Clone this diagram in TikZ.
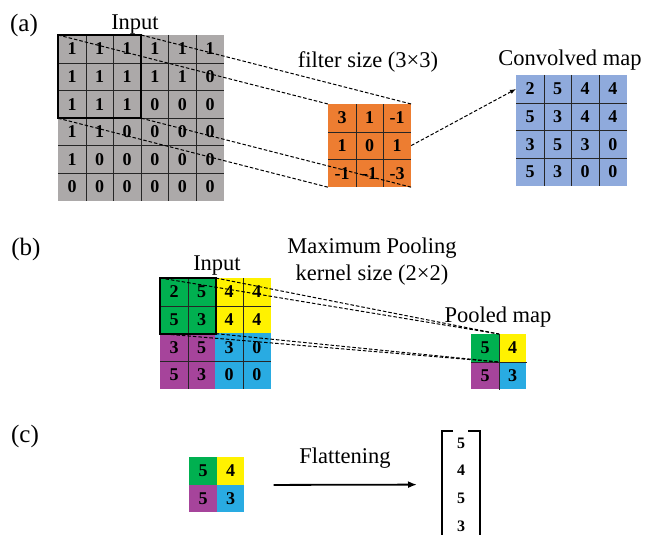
\documentclass[tikz,border=0pt]{standalone}
\usepackage{fontspec}
\setmainfont{Liberation Serif}
\usetikzlibrary{arrows.meta}
\definecolor{ingray}{RGB}{172,169,169}
\definecolor{filtorange}{RGB}{237,125,49}
\definecolor{convblue}{RGB}{143,170,220}
\definecolor{poolgreen}{RGB}{0,176,80}
\definecolor{poolyellow}{RGB}{255,242,0}
\definecolor{poolpurple}{RGB}{166,68,155}
\definecolor{poolcyan}{RGB}{41,171,226}
\tikzset{
  cell/.style     = { anchor=north west, minimum size=27.6pt, inner sep=0pt, font=\bfseries\fontsize{18}{19}\selectfont },
  incell/.style   = { cell, fill=ingray },
  ficell/.style   = { cell, fill=filtorange },
  cocell/.style   = { cell, fill=convblue },
  gridline/.style = { draw=black!85, line width=0.8pt },
  window/.style   = { draw=black, line width=1.8pt },
  connect/.style  = { dashed, line width=1pt, dash pattern=on 3.5pt off 2pt },
  title/.style    = { anchor=base, font=\fontsize{22.5}{24}\selectfont },
  tag/.style      = { anchor=base, font=\fontsize{25}{26}\selectfont },
  vecnum/.style   = { font=\bfseries\fontsize{16}{17}\selectfont },
  flat/.style     = { line width=1.8pt, -{Latex[length=9pt,width=7pt]} },
  brack/.style    = { line width=1.6pt }
}

\begin{document}
\begin{tikzpicture}[x=1pt, y=-1pt]
    \useasboundingbox (0,0) rectangle (648,535);

    % (a) convolution
    \node[tag]   (taga) at (24,32)  {(a)};
    \node[title] (ina)  at (135,30) {Input};
    \node[title] (fsz)  at (368,67) {filter size (3×3)};
    \node[title] (cmap) at (570,66) {Convolved map};

    \node[incell] (a11) at ( 58.0, 35.0) {1}; \node[incell] (a12) at ( 85.6, 35.0) {1}; \node[incell] (a13) at (113.2, 35.0) {1};
    \node[incell] (a14) at (140.8, 35.0) {1}; \node[incell] (a15) at (168.4, 35.0) {1}; \node[incell] (a16) at (196.0, 35.0) {1};
    \node[incell] (a21) at ( 58.0, 62.6) {1}; \node[incell] (a22) at ( 85.6, 62.6) {1}; \node[incell] (a23) at (113.2, 62.6) {1};
    \node[incell] (a24) at (140.8, 62.6) {1}; \node[incell] (a25) at (168.4, 62.6) {1}; \node[incell] (a26) at (196.0, 62.6) {0};
    \node[incell] (a31) at ( 58.0, 90.2) {1}; \node[incell] (a32) at ( 85.6, 90.2) {1}; \node[incell] (a33) at (113.2, 90.2) {1};
    \node[incell] (a34) at (140.8, 90.2) {0}; \node[incell] (a35) at (168.4, 90.2) {0}; \node[incell] (a36) at (196.0, 90.2) {0};
    \node[incell] (a41) at ( 58.0,117.8) {1}; \node[incell] (a42) at ( 85.6,117.8) {1}; \node[incell] (a43) at (113.2,117.8) {0};
    \node[incell] (a44) at (140.8,117.8) {0}; \node[incell] (a45) at (168.4,117.8) {0}; \node[incell] (a46) at (196.0,117.8) {0};
    \node[incell] (a51) at ( 58.0,145.4) {1}; \node[incell] (a52) at ( 85.6,145.4) {0}; \node[incell] (a53) at (113.2,145.4) {0};
    \node[incell] (a54) at (140.8,145.4) {0}; \node[incell] (a55) at (168.4,145.4) {0}; \node[incell] (a56) at (196.0,145.4) {0};
    \node[incell] (a61) at ( 58.0,173.0) {0}; \node[incell] (a62) at ( 85.6,173.0) {0}; \node[incell] (a63) at (113.2,173.0) {0};
    \node[incell] (a64) at (140.8,173.0) {0}; \node[incell] (a65) at (168.4,173.0) {0}; \node[incell] (a66) at (196.0,173.0) {0};

    \draw[gridline] (a11.north east) -- (a61.south east) (a12.north east) -- (a62.south east)
                    (a13.north east) -- (a63.south east) (a14.north east) -- (a64.south east)
                    (a15.north east) -- (a65.south east);
    \draw[gridline] (a11.south west) -- (a16.south east) (a21.south west) -- (a26.south east)
                    (a31.south west) -- (a36.south east) (a41.south west) -- (a46.south east)
                    (a51.south west) -- (a56.south east);

    \node[ficell] (f11) at (328.0,104.0) {3};  \node[ficell] (f12) at (355.6,104.0) {1};  \node[ficell] (f13) at (383.2,104.0) {-1};
    \node[ficell] (f21) at (328.0,131.6) {1};  \node[ficell] (f22) at (355.6,131.6) {0};  \node[ficell] (f23) at (383.2,131.6) {1};
    \node[ficell] (f31) at (328.0,159.2) {-1}; \node[ficell] (f32) at (355.6,159.2) {-1}; \node[ficell] (f33) at (383.2,159.2) {-3};
    \draw[gridline] (f11.north east) -- (f31.south east) (f12.north east) -- (f32.south east);
    \draw[gridline] (f11.south west) -- (f13.south east) (f21.south west) -- (f23.south east);

    \node[cocell] (c11) at (516.0, 75.0) {2}; \node[cocell] (c12) at (543.6, 75.0) {5}; \node[cocell] (c13) at (571.2, 75.0) {4}; \node[cocell] (c14) at (598.8, 75.0) {4};
    \node[cocell] (c21) at (516.0,102.6) {5}; \node[cocell] (c22) at (543.6,102.6) {3}; \node[cocell] (c23) at (571.2,102.6) {4}; \node[cocell] (c24) at (598.8,102.6) {4};
    \node[cocell] (c31) at (516.0,130.2) {3}; \node[cocell] (c32) at (543.6,130.2) {5}; \node[cocell] (c33) at (571.2,130.2) {3}; \node[cocell] (c34) at (598.8,130.2) {0};
    \node[cocell] (c41) at (516.0,157.8) {5}; \node[cocell] (c42) at (543.6,157.8) {3}; \node[cocell] (c43) at (571.2,157.8) {0}; \node[cocell] (c44) at (598.8,157.8) {0};
    \draw[gridline] (c11.north east) -- (c41.south east) (c12.north east) -- (c42.south east) (c13.north east) -- (c43.south east);
    \draw[gridline] (c11.south west) -- (c14.south east) (c21.south west) -- (c24.south east) (c31.south west) -- (c34.south east);

    \draw[window] (a11.north west) rectangle (a33.south east);
    \draw[connect] (a11.north west) -- (f11.north west);
    \draw[connect] (a13.north east) -- (f13.north east);
    \draw[connect] (a31.south west) -- (f31.south west);
    \draw[connect] (a33.south east) -- (f33.south east);
    \draw[connect, -{Latex[length=6pt,width=4.5pt]}] (f23.east) -- (c11.west);

    % (b) max pooling
    \node[tag]   (tagb) at (26,255)  {(b)};
    \node[title] (inb)  at (217,270) {Input};
    \node[title] (mpl)  at (372,253) {Maximum Pooling};
    \node[title] (ksz)  at (372,280) {kernel size (2×2)};
    \node[title] (pmap) at (498,322) {Pooled map};

    \node[cell, fill=poolgreen]  (p11) at (160.0,278.0) {2}; \node[cell, fill=poolgreen]  (p12) at (187.6,278.0) {5};
    \node[cell, fill=poolyellow] (p13) at (215.2,278.0) {4}; \node[cell, fill=poolyellow] (p14) at (242.8,278.0) {4};
    \node[cell, fill=poolgreen]  (p21) at (160.0,305.6) {5}; \node[cell, fill=poolgreen]  (p22) at (187.6,305.6) {3};
    \node[cell, fill=poolyellow] (p23) at (215.2,305.6) {4}; \node[cell, fill=poolyellow] (p24) at (242.8,305.6) {4};
    \node[cell, fill=poolpurple] (p31) at (160.0,333.2) {3}; \node[cell, fill=poolpurple] (p32) at (187.6,333.2) {5};
    \node[cell, fill=poolcyan]   (p33) at (215.2,333.2) {3}; \node[cell, fill=poolcyan]   (p34) at (242.8,333.2) {0};
    \node[cell, fill=poolpurple] (p41) at (160.0,360.8) {5}; \node[cell, fill=poolpurple] (p42) at (187.6,360.8) {3};
    \node[cell, fill=poolcyan]   (p43) at (215.2,360.8) {0}; \node[cell, fill=poolcyan]   (p44) at (242.8,360.8) {0};
    \draw[gridline] (p11.north east) -- (p41.south east) (p13.north east) -- (p43.south east);
    \draw[gridline] (p11.south west) -- (p14.south east) (p31.south west) -- (p34.south east);

    \node[cell, fill=poolgreen]  (q11) at (471.0,334.0) {5}; \node[cell, fill=poolyellow] (q12) at (498.6,334.0) {4};
    \node[cell, fill=poolpurple] (q21) at (471.0,361.6) {5}; \node[cell, fill=poolcyan]   (q22) at (498.6,361.6) {3};
    \draw[gridline] (q11.north east) -- (q21.south east) (q11.south west) -- (q12.south east);

    \draw[window] (p11.north west) rectangle (p22.south east);
    \draw[connect] (p11.north west) -- (q11.north east);
    \draw[connect] (p12.north east) -- (q11.north east);
    \draw[connect] (p21.south west) -- (q11.south east);
    \draw[connect] (p22.south east) -- (q11.south east);

    % (c) flattening
    \node[tag]   (tagc) at (25,442)  {(c)};
    \node[title] (fltn) at (345,463) {Flattening};

    \node[cell, fill=poolgreen]  (r11) at (189.0,457.0) {5}; \node[cell, fill=poolyellow] (r12) at (216.6,457.0) {4};
    \node[cell, fill=poolpurple] (r21) at (189.0,484.6) {5}; \node[cell, fill=poolcyan]   (r22) at (216.6,484.6) {3};

    \node[vecnum] (v1) at (461,443) {5};
    \node[vecnum] (v2) at (461,470) {4};
    \node[vecnum] (v3) at (461,498) {5};
    \node[vecnum] (v4) at (461,526) {3};
    \draw[brack] (453,431) -| (442,545);
    \draw[brack] (468,431) -| (480,545);

    \coordinate (flatend) at (417,484.6);
    \draw[flat, shorten <=29pt] (r12.south east) -- (flatend);
\end{tikzpicture}
\end{document}
